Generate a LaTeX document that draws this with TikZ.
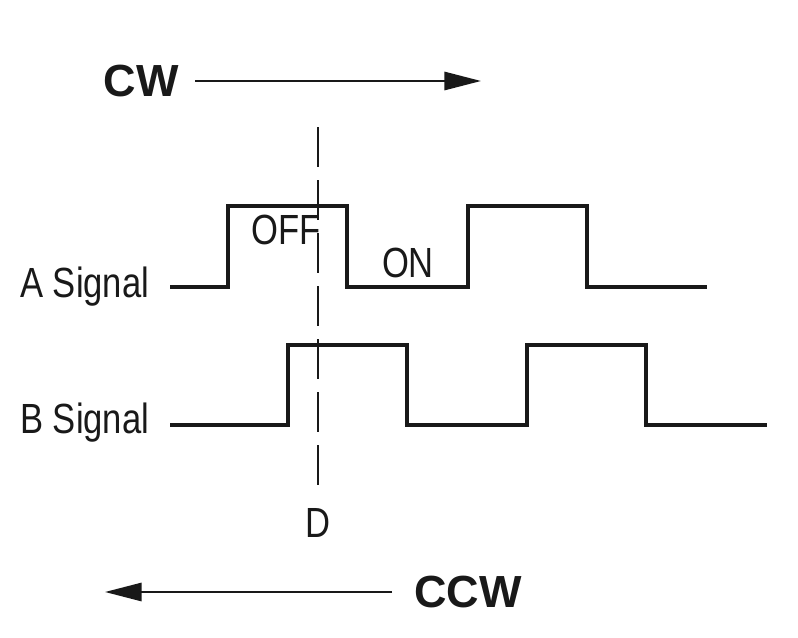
\documentclass[tikz,border=0pt]{standalone}
\usepackage{fontspec}
\setmainfont{Liberation Sans}
\newfontfamily\condfont[FakeStretch=0.82]{Liberation Sans}
\usetikzlibrary{arrows.meta}
\begin{document}
\begin{tikzpicture}[x=0.025cm, y=-0.025cm, line join=miter, line cap=butt,
		signal/.style={line width=2.9pt, black!90},
		dir/.style={line width=1.4pt, black!90, -{Triangle[length=26pt, width=13pt]}},
		lbl/.style={font=\condfont\fontsize{30}{36}\selectfont, inner sep=0pt, text=black!90},
		big/.style={font=\bfseries\fontsize{32}{38}\selectfont, inner sep=0pt, text=black!90}]
		
		\useasboundingbox (0,0) rectangle (798,638);
		
		% direction arrows
		\node[big] (cw) at (141,81) {CW};
		\coordinate (cws) at (195,81);
		\coordinate (cwe) at (481,81);
		\draw[dir] (cws) -- (cwe);
		
		\node[big] (ccw) at (468,592) {CCW};
		\coordinate (ccws) at (392,592);
		\coordinate (ccwe) at (105,592);
		\draw[dir] (ccws) -- (ccwe);
		
		% signals
		\draw[signal] (170,287) -- (228,287) -- (228,206) -- (347,206) -- (347,287)
			-- (468,287) -- (468,206) -- (587,206) -- (587,287) -- (707,287);
		\draw[signal] (170,425) -- (288,425) -- (288,345) -- (407,345) -- (407,425)
			-- (527,425) -- (527,345) -- (646,345) -- (646,425) -- (767,425);
		
		% position D
		\draw[line width=1.4pt, black!90, dash pattern=on 28.4pt off 9.3pt] (318,127) -- (318,487);
		
		\node[lbl, anchor=base west] (asig) at (20,297) {A Signal};
		\node[lbl, anchor=base west] (bsig) at (20,433) {B Signal};
		\node[lbl, anchor=base] (off) at (286,244) {OFF};
		\node[lbl, anchor=base] (on) at (408,277) {ON};
		\node[lbl, anchor=base] (d) at (318,537) {D};
		
	\end{tikzpicture}
\end{document}
